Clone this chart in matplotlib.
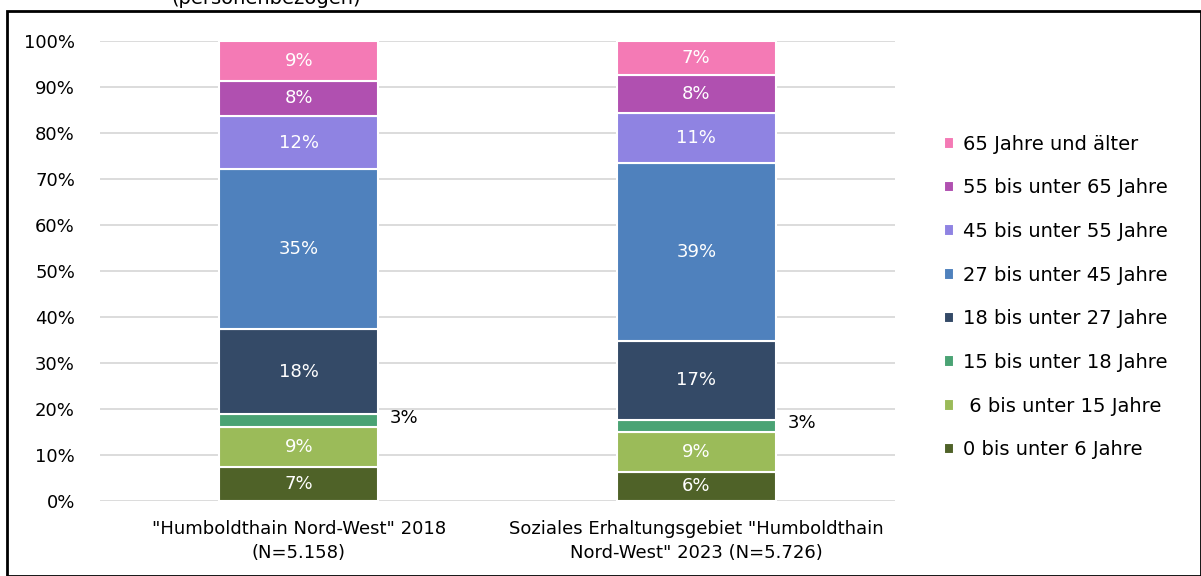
import numpy as np
import matplotlib
matplotlib.use("Agg")
import matplotlib.pyplot as plt
from matplotlib.patches import Rectangle

# ── Data ────────────────────────────────────────────────────────────────
categories = ['"Humboldthain Nord-West" 2018\n(N=5.158)',
              'Soziales Erhaltungsgebiet "Humboldthain\nNord-West" 2023 (N=5.726)']
age_groups = ["0 bis unter 6 Jahre", " 6 bis unter 15 Jahre", "15 bis unter 18 Jahre",
              "18 bis unter 27 Jahre", "27 bis unter 45 Jahre", "45 bis unter 55 Jahre",
              "55 bis unter 65 Jahre", "65 Jahre und älter"]
share_2018 = [7.3, 8.7, 2.9, 18.3, 34.8, 11.6, 7.7, 8.7]
share_2023 = [6.2, 8.6, 2.8, 17.0, 38.8, 10.8, 8.4, 7.4]
yticks = [0, 10, 20, 30, 40, 50, 60, 70, 80, 90, 100]

colors = ["#4F6228", "#9BBB59", "#4AA374", "#344A67",
          "#4F81BD", "#8F83E2", "#B050B0", "#F47AB5"]

plt.rcParams["font.family"] = ["DejaVu Sans"]

fig = plt.figure(figsize=(12.01, 5.76), dpi=100)
ax = fig.add_axes([100 / 1201, 1 - 500.5 / 576, 795 / 1201, 459.8 / 576])

data = np.array([share_2018, share_2023])
x = np.arange(len(categories))
bottom = np.zeros(len(categories))
bar_w = 0.4

for i, grp in enumerate(age_groups):
    vals = data[:, i]
    ax.bar(x, vals, bar_w, bottom=bottom, color=colors[i], label=grp,
           edgecolor="white", linewidth=1.5, zorder=3)
    for j, v in enumerate(vals):
        if grp.startswith("15"):
            # small segment: label outside, right of bar
            ax.text(x[j] + bar_w / 2 + 0.03, bottom[j] + v / 2 + 0.6, f"{v:.0f}%",
                    ha="left", va="center", fontsize=13, color="black")
        else:
            ax.text(x[j], bottom[j] + v / 2, f"{v:.0f}%",
                    ha="center", va="center", fontsize=13, color="white")
    bottom += vals

ax.set_xlim(-0.5, 1.5)
ax.set_ylim(0, 100)
ax.set_yticks(yticks)
ax.set_yticklabels([f"{t}%" for t in yticks], fontsize=13)
ax.set_xticks(x)
ax.set_xticklabels(categories, fontsize=13, linespacing=1.45)
ax.tick_params(axis="y", length=0, pad=18)
ax.tick_params(axis="x", length=0, pad=14)
ax.grid(axis="y", color="#D9D9D9", linewidth=1.3, zorder=0)
ax.set_axisbelow(True)
for s in ax.spines.values():
    s.set_visible(False)

h, l = ax.get_legend_handles_labels()
fig.legend(h[::-1], l[::-1], loc="center left", bbox_to_anchor=(926 / 1201, 1 - 297 / 576),
           frameon=False, fontsize=14, handlelength=0.55, handleheight=0.55,
           handletextpad=0.45, labelspacing=1.27)

# cut-off title at top of the frame
fig.text(266 / 1201, 1 - 4 / 576, "(personenbezogen)", ha="center", va="baseline", fontsize=14)

# frame around the chart
fig.patches.append(Rectangle((7 / 1201, 0.0), 1 - 7 / 1201 - 0.5 / 1201, 1 - 11 / 576,
                             transform=fig.transFigure, fill=False,
                             edgecolor="black", linewidth=2))

fig.savefig("out.png", dpi=100)
